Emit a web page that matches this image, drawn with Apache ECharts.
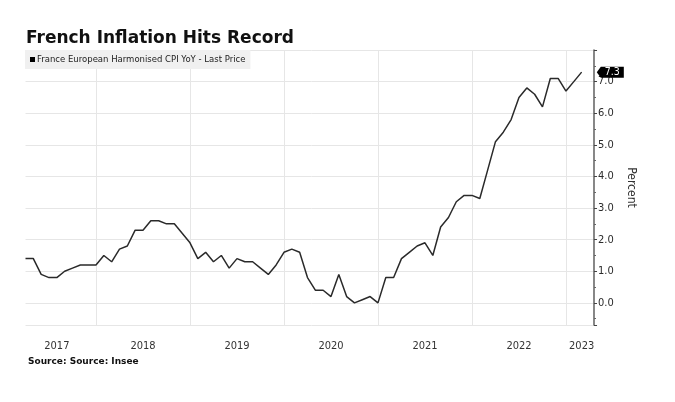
<!DOCTYPE html>
<html>
<head>
<meta charset="utf-8">
<script src="https://cdn.jsdelivr.net/npm/echarts@6/dist/echarts.min.js"></script>
<style>
html,body{margin:0;padding:0;background:#fff;}
#chart{width:675px;height:402px;}
</style>
</head>
<body>
<div id="chart"></div>
<script>
// Month-end categories (Mar 2017 .. Apr 2023)
const months = [
  '2017-03','2017-04','2017-05','2017-06','2017-07','2017-08','2017-09','2017-10','2017-11','2017-12',
  '2018-01','2018-02','2018-03','2018-04','2018-05','2018-06','2018-07','2018-08','2018-09','2018-10','2018-11','2018-12',
  '2019-01','2019-02','2019-03','2019-04','2019-05','2019-06','2019-07','2019-08','2019-09','2019-10','2019-11','2019-12',
  '2020-01','2020-02','2020-03','2020-04','2020-05','2020-06','2020-07','2020-08','2020-09','2020-10','2020-11','2020-12',
  '2021-01','2021-02','2021-03','2021-04','2021-05','2021-06','2021-07','2021-08','2021-09','2021-10','2021-11','2021-12',
  '2022-01','2022-02','2022-03','2022-04','2022-05','2022-06','2022-07','2022-08','2022-09','2022-10','2022-11','2022-12',
  '2023-01','2023-02','2023-03','2023-04'
];
// France HICP YoY, %
const cpiYoY = [
  1.4, 1.4, 0.9, 0.8, 0.8, 1.0, 1.1, 1.2, 1.2, 1.2,
  1.5, 1.3, 1.7, 1.8, 2.3, 2.3, 2.6, 2.6, 2.5, 2.5, 2.2, 1.9,
  1.4, 1.6, 1.3, 1.5, 1.1, 1.4, 1.3, 1.3, 1.1, 0.9, 1.2, 1.6,
  1.7, 1.6, 0.8, 0.4, 0.4, 0.2, 0.9, 0.2, 0.0, 0.1, 0.2, 0.0,
  0.8, 0.8, 1.4, 1.6, 1.8, 1.9, 1.5, 2.4, 2.7, 3.2, 3.4, 3.4,
  3.3, 4.2, 5.1, 5.4, 5.8, 6.5, 6.8, 6.6, 6.2, 7.1, 7.1, 6.7,
  7.0, 7.3
];
// Year labels and the category where each is shown
const yearLabelAt = ['2017-07','2018-06','2019-06','2020-06','2021-06','2022-06','2023-02'];
const yearBoundaryMonth = '12';
const seriesName = 'France European Harmonised CPI YoY - Last Price';
const titleText = 'French Inflation Hits Record';
const sourceText = 'Source: Source: Insee';
const yAxisName = 'Percent';

const FONT = '"DejaVu Sans", sans-serif';
const FONT_C = '"DejaVu Sans Condensed", "DejaVu Sans", sans-serif';
const lastValue = cpiYoY[cpiYoY.length - 1];
const lastCat = months[months.length - 1];

const chart = echarts.init(document.getElementById('chart'));
chart.setOption({
  animation: false,
  backgroundColor: '#ffffff',
  textStyle: { fontFamily: FONT_C },
  title: [
    { text: titleText, left: 21, top: 25,
      textStyle: { fontFamily: FONT, fontWeight: 'bold', fontSize: 17, color: '#111' } },
    { text: sourceText, left: 23, top: 352,
      textStyle: { fontFamily: FONT, fontWeight: 'bold', fontSize: 9, color: '#111' } }
  ],
  legend: {
    left: 25, top: 50,
    backgroundColor: '#f0f0f0',
    padding: [5, 5, 5, 5],
    icon: 'rect', itemWidth: 5, itemHeight: 5, itemGap: 4,
    textStyle: { fontFamily: FONT, fontSize: 8.5, color: '#222', padding: [0, 0, 0, -3] },
    data: [seriesName]
  },
  grid: { left: 25.5, right: 77.7, top: 50, bottom: 77, containLabel: false },
  xAxis: {
    type: 'category',
    data: months,
    boundaryGap: false,
    axisLine: { show: false },
    axisTick: { show: false },
    axisLabel: {
      interval: (i, v) => yearLabelAt.indexOf(v) >= 0,
      formatter: v => v.slice(0, 4),
      margin: 16,
      fontSize: 11,
      color: '#333',
      fontFamily: FONT_C
    },
    splitLine: {
      show: true,
      interval: (i, v) => v.slice(5) === yearBoundaryMonth,
      lineStyle: { color: '#e6e6e6', width: 1 }
    }
  },
  yAxis: {
    type: 'value',
    position: 'right',
    offset: -3.3,
    min: -0.7,
    max: 8.0,
    splitNumber: 8,
    minInterval: 1,
    maxInterval: 1,
    name: yAxisName,
    nameLocation: 'middle',
    nameRotate: -90,
    nameGap: 29,
    nameTextStyle: { fontFamily: FONT_C, fontSize: 12, color: '#333' },
    axisLine: { show: true, lineStyle: { color: '#6a6a6a', width: 1.6 } },
    axisTick: { show: true, inside: false, length: 3, lineStyle: { color: '#444' } },
    minorTick: { show: true, splitNumber: 2, length: 2, lineStyle: { color: '#666' } },
    axisLabel: {
      showMinLabel: false, showMaxLabel: false,
      margin: 4, fontSize: 11, color: '#2a2a2a', fontFamily: FONT_C,
      formatter: v => v.toFixed(1)
    },
    splitLine: { show: true, lineStyle: { color: '#e6e6e6', width: 1 } }
  },
  series: [{
    name: seriesName,
    type: 'line',
    data: cpiYoY,
    symbol: 'none',
    itemStyle: { color: '#000' },
    lineStyle: { color: '#2a2a2a', width: 1.5 },
    markPoint: {
      silent: true,
      symbol: 'path://M0,5.5 L4,0 L27,0 L27,11 L4,11 Z',
      symbolSize: [27, 11],
      symbolKeepAspect: false,
      symbolOffset: [13, 0],
      itemStyle: { color: '#000' },
      label: { show: true, color: '#fff', fontSize: 10.5, fontFamily: FONT_C, offset: [2, 0], formatter: () => lastValue.toFixed(1) },
      data: [{ coord: [lastCat, lastValue], value: lastValue }]
    }
  }]
});
</script>
</body>
</html>
